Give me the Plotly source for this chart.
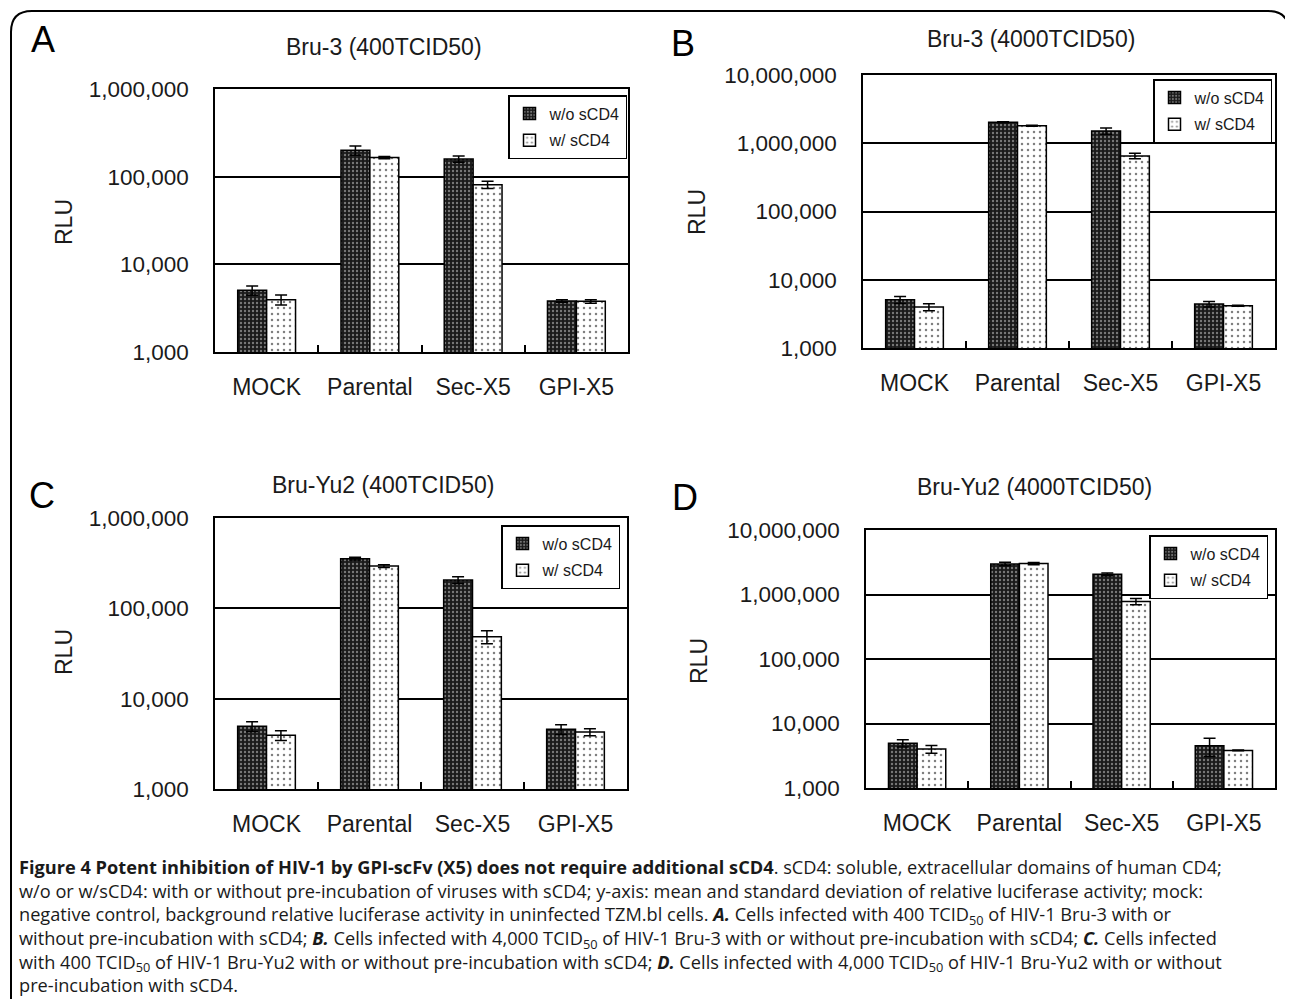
import plotly.graph_objects as go

# page is shown with an 8px body margin, so the figure is sized to fill the rest
OFF = 8
W, H = 1293 - 2 * OFF, 1007 - 2 * OFF

categories = ["MOCK", "Parental", "Sec-X5", "GPI-X5"]
series_names = ["w/o sCD4", "w/ sCD4"]

# Panel A: Bru-3 (400TCID50)
A_wo = [5050, 200000, 159000, 3820]
A_wo_err = [610, 24000, 13000, 130]
A_w = [3950, 165000, 81000, 3780]
A_w_err = [520, 5000, 7500, 170]

# Panel B: Bru-3 (4000TCID50)
B_wo = [5100, 2030000, 1515000, 4400]
B_wo_err = [600, 40000, 160000, 420]
B_w = [3980, 1810000, 653000, 4160]
B_w_err = [470, 30000, 61000, 60]

# Panel C: Bru-Yu2 (400TCID50)
C_wo = [4940, 355000, 206000, 4580]
C_wo_err = [620, 12000, 18000, 570]
C_w = [3930, 294000, 48600, 4270]
C_w_err = [490, 10000, 8000, 380]

# Panel D: Bru-Yu2 (4000TCID50)
D_wo = [4960, 2980000, 2060000, 4510]
D_wo_err = [630, 180000, 100000, 1420]
D_w = [4010, 3020000, 780000, 3820]
D_w_err = [560, 120000, 87000, 50]

titles = ["Bru-3 (400TCID50)", "Bru-3 (4000TCID50)",
          "Bru-Yu2 (400TCID50)", "Bru-Yu2 (4000TCID50)"]
letters = ["A", "B", "C", "D"]

FONT = "Liberation Sans, Arial, sans-serif"
TXT = "#1a1a1a"

def px(x):
    return (x - OFF) / W

def py(y):
    return 1 - (y - OFF) / H

# panel geometry in page pixels: left, right, top, bottom
panels = [
    dict(l=215, r=628, t=89, b=352, yr=[3, 6], leg=(627, 95), title=(384, 47), letter=(43, 40), rlu=(64, 222),
         wo=A_wo, woe=A_wo_err, w=A_w, we=A_w_err),
    dict(l=863, r=1275, t=75, b=348, yr=[3, 7], leg=(1272, 79), title=(1031, 39), letter=(683, 43), rlu=(697, 212),
         wo=B_wo, woe=B_wo_err, w=B_w, we=B_w_err),
    dict(l=215, r=627, t=518, b=789, yr=[3, 6], leg=(620, 525), title=(383, 485), letter=(42, 495), rlu=(64, 652),
         wo=C_wo, woe=C_wo_err, w=C_w, we=C_w_err),
    dict(l=866, r=1275, t=530, b=788, yr=[3, 7], leg=(1268, 535), title=(1034, 487), letter=(685, 497), rlu=(699, 661),
         wo=D_wo, woe=D_wo_err, w=D_w, we=D_w_err),
]

fig = go.Figure()
annotations = []
layout_extra = {}

for i, p in enumerate(panels):
    n = "" if i == 0 else str(i + 1)
    xa, ya = "x" + n, "y" + n
    lg = "legend" + n
    dark = go.Bar(
        x=categories, y=p["wo"], name=series_names[0], xaxis=xa, yaxis=ya, legend=lg,
        legendgroup="wo",
        marker=dict(color="#1a1a1a", line=dict(color="black", width=1.5),
                    pattern=dict(shape=".", fgcolor="#d5d5d5", bgcolor="#1a1a1a", size=4, solidity=0.28)),
        error_y=dict(type="data", array=p["woe"], color="black", thickness=1.5, width=6),
    )
    light = go.Bar(
        x=categories, y=p["w"], name=series_names[1], xaxis=xa, yaxis=ya, legend=lg,
        legendgroup="w",
        marker=dict(color="white", line=dict(color="black", width=1.5),
                    pattern=dict(shape=".", fgcolor="black", bgcolor="white", size=6, solidity=0.14)),
        error_y=dict(type="data", array=p["we"], color="black", thickness=1.5, width=6),
    )
    fig.add_trace(dark)
    fig.add_trace(light)

    layout_extra["xaxis" + n] = dict(
        domain=[px(p["l"]), px(p["r"])], anchor=ya, type="category", automargin=False,
        showline=True, linecolor="black", linewidth=1.5, mirror=True,
        ticks="inside", tickson="boundaries", ticklen=7, tickcolor="black", tickwidth=1.5,
        tickfont=dict(family=FONT, size=23, color=TXT), ticklabelstandoff=14,
        showgrid=False, fixedrange=True,
    )
    layout_extra["yaxis" + n] = dict(
        domain=[py(p["b"]), py(p["t"])], anchor=xa, type="log", range=p["yr"], dtick=1,
        tickformat=",d", showline=True, linecolor="black", linewidth=1.5, mirror=True,
        showgrid=True, gridcolor="black", gridwidth=1.5, ticks="", automargin=False,
        tickfont=dict(family=FONT, size=22.5, color=TXT), ticklabelstandoff=20,
        zeroline=False, fixedrange=True,
    )
    layout_extra[lg] = dict(
        x=px(p["leg"][0]), y=py(p["leg"][1]), xanchor="right", yanchor="top",
        bordercolor="black", borderwidth=1.5, bgcolor="white",
        font=dict(family=FONT, size=16, color=TXT), traceorder="grouped", tracegroupgap=3,
        itemwidth=30,
    )
    annotations.append(dict(text=titles[i], x=px(p["title"][0]), y=py(p["title"][1]),
                            xref="paper", yref="paper", showarrow=False, xanchor="center", yanchor="middle",
                            font=dict(family=FONT, size=23, color=TXT)))
    annotations.append(dict(text=letters[i], x=px(p["letter"][0]), y=py(p["letter"][1]),
                            xref="paper", yref="paper", showarrow=False, xanchor="center", yanchor="middle",
                            font=dict(family=FONT, size=36, color="black")))
    annotations.append(dict(text="RLU", x=px(p["rlu"][0]), y=py(p["rlu"][1]), textangle=-90,
                            xref="paper", yref="paper", showarrow=False, xanchor="center", yanchor="middle",
                            font=dict(family=FONT, size=23, color=TXT)))

caption_lines = [
    "<b>Figure 4 Potent inhibition of HIV-1 by GPI-scFv (X5) does not require additional sCD4</b>. sCD4: soluble, extracellular domains of human CD4;",
    "w/o or w/sCD4: with or without pre-incubation of viruses with sCD4; y-axis: mean and standard deviation of relative luciferase activity; mock:",
    "negative control, background relative luciferase activity in uninfected TZM.bl cells. <b><i>A.</i></b> Cells infected with 400 TCID<sub>50</sub> of HIV-1 Bru-3 with or",
    "without pre-incubation with sCD4; <b><i>B.</i></b> Cells infected with 4,000 TCID<sub>50</sub> of HIV-1 Bru-3 with or without pre-incubation with sCD4; <b><i>C.</i></b> Cells infected",
    "with 400 TCID<sub>50</sub> of HIV-1 Bru-Yu2 with or without pre-incubation with sCD4; <b><i>D.</i></b> Cells infected with 4,000 TCID<sub>50</sub> of HIV-1 Bru-Yu2 with or without",
    "pre-incubation with sCD4.",
]
annotations.append(dict(text="<br>".join(caption_lines), x=px(17), y=py(853), xref="paper", yref="paper",
                        showarrow=False, xanchor="left", yanchor="top", align="left",
                        font=dict(family="Open Sans, Noto Sans, sans-serif", size=18.2, color="#1a1a1a")))

# rounded frame (top + left side, top-right corner)
r = 21
path = (f"M {px(11)},{py(1007)} L {px(11)},{py(11 + r)} Q {px(11)},{py(11)} {px(11 + r)},{py(11)} "
        f"L {px(1289 - r)},{py(11)} Q {px(1289)},{py(11)} {px(1289)},{py(11 + r)} L {px(1289)},{py(45)}")
shapes = [dict(type="path", xref="paper", yref="paper", path=path, line=dict(color="black", width=2))]

fig.update_layout(
    width=W, height=H, margin=dict(l=0, r=0, t=0, b=0, pad=0, autoexpand=False),
    paper_bgcolor="white", plot_bgcolor="white",
    barmode="group", bargap=0.44, bargroupgap=0,
    showlegend=True, annotations=annotations, shapes=shapes,
    font=dict(family=FONT, color=TXT),
    **layout_extra,
)

fig.write_html("out.html")
